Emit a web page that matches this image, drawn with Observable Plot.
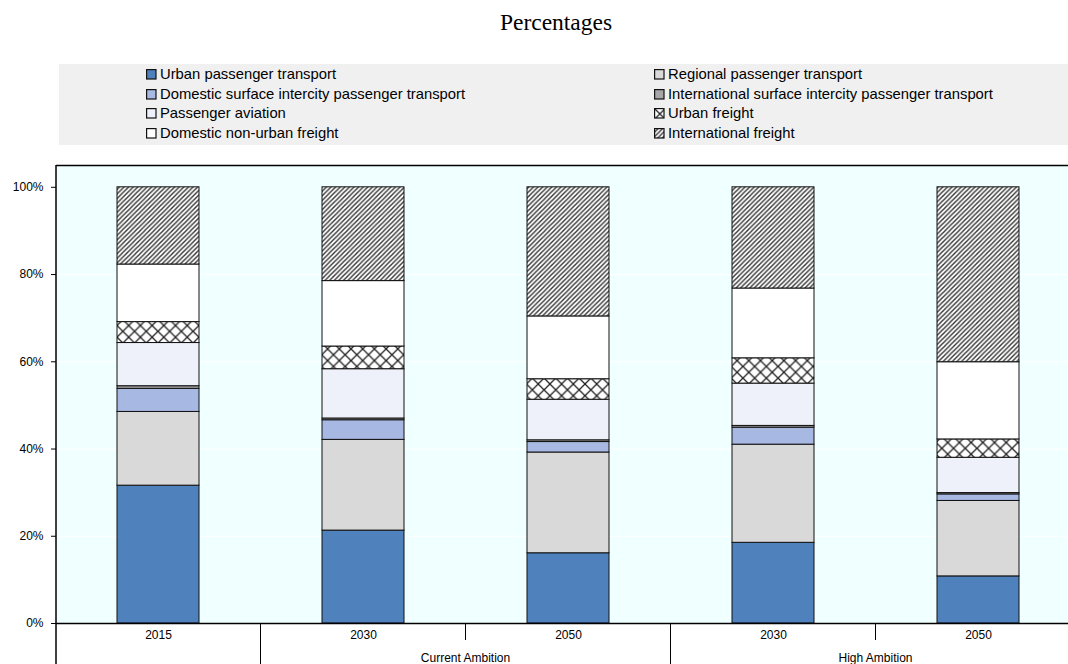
<!DOCTYPE html>
<html>
<head>
<meta charset="utf-8">
<script src="https://cdn.jsdelivr.net/npm/d3@7"></script>
<script src="https://cdn.jsdelivr.net/npm/@observablehq/plot@0.6"></script>
<style>
  html, body { margin: 0; padding: 0; background: #fff; }
  body { width: 1068px; height: 664px; position: relative; overflow: hidden; font-family: "Liberation Sans", Arial, sans-serif; }
  #title { position: absolute; top: 9px; left: 0; width: 1112px; text-align: center; font-family: "Liberation Serif", "Times New Roman", serif; font-size: 23.5px; color: #000; }
  #legend { position: absolute; left: 59px; top: 64px; width: 1009px; height: 81px; background: #F0F0F0; }
  .item { position: absolute; font-size: 14.8px; line-height: 19px; color: #000; white-space: nowrap; display: flex; align-items: center; }
  .item svg { margin-right: 3px; }
  #chart { position: absolute; left: 0; top: 150px; }
</style>
</head>
<body>
<svg width="0" height="0" style="position:absolute">
  <defs>
    <pattern id="crosshatch" patternUnits="userSpaceOnUse" width="11.7" height="11.7">
      <rect width="11.7" height="11.7" fill="#fff"/>
      <path d="M0,0 L11.7,11.7 M11.7,0 L0,11.7" stroke="#222" stroke-width="1.3"/>
    </pattern>
    <pattern id="diaghatch" patternUnits="userSpaceOnUse" width="4.6" height="4.6">
      <rect width="4.6" height="4.6" fill="#fff"/>
      <path d="M-1,5.6 L5.6,-1 M-1,1 L1,-1 M3.6,5.6 L5.6,3.6" stroke="#333" stroke-width="1.4"/>
    </pattern>
  </defs>
</svg>
<div id="title">Percentages</div>
<div id="legend"></div>
<div id="chart"></div>
<script>
// Categories (x axis)
const categories = ["2015", "Current Ambition 2030", "Current Ambition 2050", "High Ambition 2030", "High Ambition 2050"];
const yearLabels = ["2015", "2030", "2050", "2030", "2050"];
const groupLabels = ["Current Ambition", "High Ambition"];

// Series (bottom to top)
const seriesNames = [
  "Urban passenger transport",
  "Regional passenger transport",
  "Domestic surface intercity passenger transport",
  "International surface intercity passenger transport",
  "Passenger aviation",
  "Urban freight",
  "Domestic non-urban freight",
  "International freight"
];
const seriesFills = ["#4F81BD", "#D9D9D9", "#A7B8E2", "#A6A6A6", "#EEF1F9", "url(#crosshatch)", "#FFFFFF", "url(#diaghatch)"];

// Values (percent), one array per series, in category order
const urbanPassenger        = [31.6, 21.3, 16.1, 18.5, 10.8];
const regionalPassenger     = [16.9, 20.8, 23.1, 22.5, 17.3];
const domesticIntercity     = [ 5.3,  4.5,  2.4,  3.9,  1.5];
const internationalSurface  = [ 0.6,  0.4,  0.4,  0.4,  0.3];
const passengerAviation     = [ 9.9, 11.3,  9.3,  9.7,  8.1];
const urbanFreight          = [ 4.8,  5.2,  4.7,  5.8,  4.2];
const domesticNonUrban      = [13.2, 15.0, 14.4, 16.0, 17.7];
const internationalFreight  = [17.7, 21.5, 29.6, 23.2, 40.1];

const seriesValues = [urbanPassenger, regionalPassenger, domesticIntercity, internationalSurface,
  passengerAviation, urbanFreight, domesticNonUrban, internationalFreight];

const yTicks = [0, 20, 40, 60, 80, 100];

const data = [];
seriesNames.forEach((s, si) => {
  categories.forEach((c, ci) => data.push({cat: c, series: s, value: seriesValues[si][ci]}));
});

// Legend
const legend = document.getElementById("legend");
seriesNames.forEach((name, k) => {
  const col = k % 2, row = Math.floor(k / 2);
  const div = document.createElement("div");
  div.className = "item";
  div.style.left = (col === 0 ? 87 : 595) + "px";
  div.style.top = (1 + row * 19.5) + "px";
  div.innerHTML = `<svg width="11" height="11"><rect x="0.6" y="0.6" width="9.4" height="9.4" fill="${seriesFills[k]}" stroke="#111" stroke-width="1.2"/></svg><span>${name}</span>`;
  legend.appendChild(div);
});

const plot = Plot.plot({
  width: 1068,
  height: 514,
  marginLeft: 56,
  marginRight: 0,
  marginTop: 15,
  marginBottom: 41,
  style: {fontFamily: "'Liberation Sans', Arial, sans-serif", fontSize: "12px", background: "transparent", overflow: "visible"},
  x: {domain: categories, range: [56, 1081], paddingInner: 0.6, paddingOuter: 0.3, label: null},
  y: {domain: [0, 105], label: null},
  color: {domain: seriesNames, range: seriesFills},
  marks: [
    Plot.frame({fill: "#F0FFFF", stroke: null}),
    Plot.gridY(yTicks.slice(1, 5), {stroke: "#fff", strokeOpacity: 1}),
    Plot.barY(data, {x: "cat", y: "value", fill: "series", stroke: "#111", strokeWidth: 1}),
    Plot.ruleY([0], {stroke: "#000", strokeWidth: 1.5}),
    Plot.ruleY([105], {stroke: "#000", strokeWidth: 1.5}),
    Plot.axisY({ticks: yTicks, tickFormat: d => d + "%", tickSize: 5, tickPadding: 8, fontSize: 12, stroke: "#000"}),
    Plot.axisX({tickSize: 0, tickPadding: 7, fontSize: 12, tickFormat: d => yearLabels[categories.indexOf(d)]})
  ]
});
document.getElementById("chart").appendChild(plot);

// Decorations derived from scales
const xs = plot.scale("x");
const ys = plot.scale("y");
const svg = d3.select(plot);
const y0 = ys.apply(0);
const yTop = ys.apply(105);
const bottom = 514;
const boundary = i => xs.apply(categories[i]) + xs.bandwidth / 2 - xs.step / 2;

const g = svg.append("g");
g.append("line").attr("x1", 56).attr("x2", 56).attr("y1", yTop).attr("y2", bottom).attr("stroke", "#000").attr("stroke-width", 1.5);
[1, 2, 3, 4].forEach(i => {
  const bx = boundary(i);
  const long = (i === 1 || i === 3);
  g.append("line").attr("x1", bx).attr("x2", bx).attr("y1", y0).attr("y2", long ? bottom : y0 + 17)
    .attr("stroke", "#000").attr("stroke-width", 1);
});
[2, 4].forEach((i, k) => {
  g.append("text").attr("x", boundary(i)).attr("y", y0 + 39).attr("text-anchor", "middle")
    .attr("font-size", 12).attr("font-family", "'Liberation Sans', Arial, sans-serif").text(groupLabels[k]);
});
</script>
</body>
</html>
